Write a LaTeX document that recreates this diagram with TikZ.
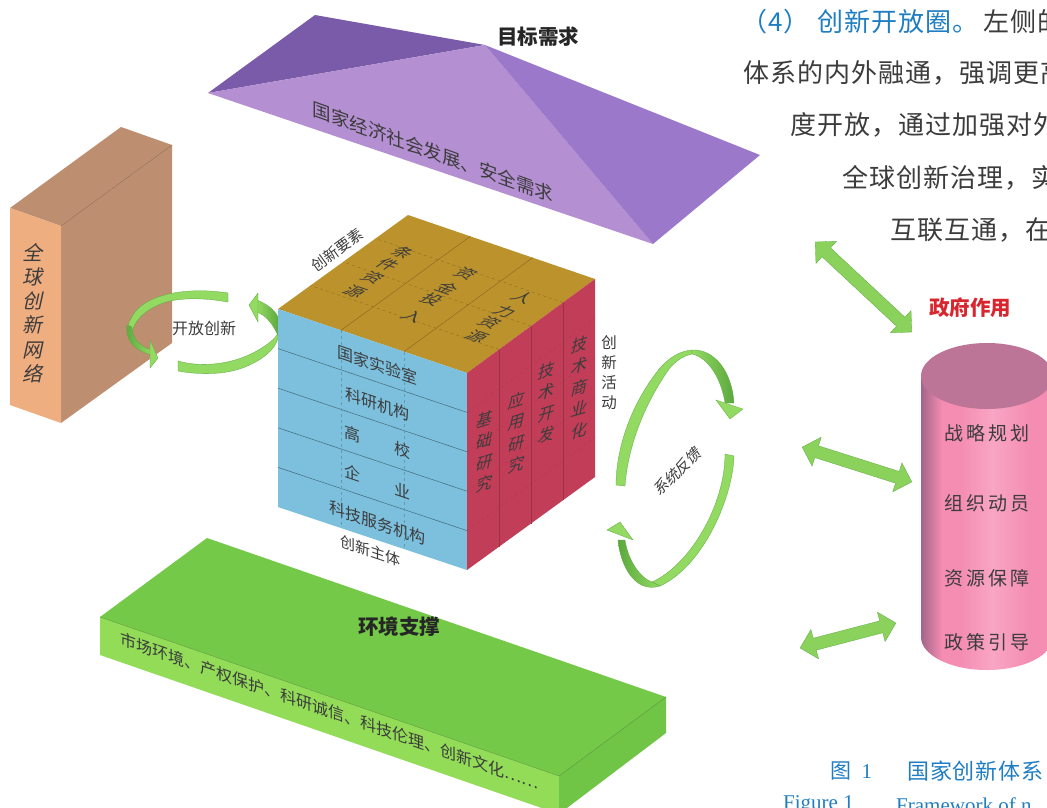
\documentclass[tikz,border=0pt]{standalone}
\usepackage{fontspec}
\usetikzlibrary{calc,shapes.arrows}
\setmainfont{Liberation Serif}
\newfontfamily\cjk{Noto Sans CJK SC}
\newfontfamily\cjkslant[FakeSlant=0.22]{Noto Sans CJK SC}
\newfontfamily\cjkbody[LetterSpace=4]{Noto Sans CJK SC}
\newfontfamily\cjkwide[LetterSpace=16]{Noto Sans CJK SC}
\definecolor{roofdark}{HTML}{7A5BA9}
\definecolor{rooffront}{HTML}{B48FD2}
\definecolor{roofside}{HTML}{9B78C9}
\definecolor{boxfront}{HTML}{EFAE80}
\definecolor{boxside}{HTML}{BD8F70}
\definecolor{cubetop}{HTML}{BC922C}
\definecolor{cubeleft}{HTML}{7CC0DE}
\definecolor{cuberight}{HTML}{C13D58}
\definecolor{slabtop}{HTML}{74C948}
\definecolor{slabfront}{HTML}{92DC58}
\definecolor{slabside}{HTML}{70C446}
\definecolor{ringlight}{HTML}{93DA62}
\definecolor{ringdark}{HTML}{5BA83E}
\definecolor{inktext}{HTML}{3C3C3C}
\definecolor{bodyblue}{HTML}{1F7EC2}
\definecolor{cyltop}{HTML}{BC7596}
\definecolor{cyledge}{HTML}{A3648A}
\definecolor{cylpink}{HTML}{F48DB1}
\definecolor{cylglow}{HTML}{F9A5C4}
\definecolor{govred}{HTML}{D9262E}
\pgfdeclarehorizontalshading{cylshade}{100bp}{color(0bp)=(cyledge);color(25bp)=(cyledge);
	color(33bp)=(cylpink);color(40bp)=(cylpink);color(52bp)=(cylglow);color(66bp)=(cylpink);color(75bp)=(cylpink);color(100bp)=(cylpink)}
\tikzstyle{lab}=[inner sep=0pt,text=inktext,font=\cjk\fontsize{16}{16}\selectfont]
\tikzstyle{stack}=[lab,align=center,font=\cjkslant\fontsize{16}{21.5}\selectfont]
\tikzstyle{headlab}=[inner sep=0pt,text=black!85,font=\cjk\bfseries\fontsize{20.5}{21}\selectfont]
\tikzstyle{leftlab}=[lab,yslant=-0.339]
\tikzstyle{toplab}=[lab,cm={0.92,-0.31,0.75,0.54,(0,0)},font=\cjk\fontsize{18.5}{19}\selectfont]
\tikzstyle{rightlab}=[stack,yslant=0.3]
\tikzstyle{cyllab}=[inner sep=0pt,text=inktext,font=\cjkwide\fontsize{19}{19}\selectfont]
\tikzstyle{bodylab}=[inner sep=0pt,anchor=west,text=inktext,font=\cjkbody\fontsize{26}{26}\selectfont]
\tikzstyle{caplab}=[inner sep=0pt,anchor=west,text=bodyblue,font=\fontsize{21}{21}\selectfont]
\tikzstyle{ringtop}=[fill=ringlight,draw=ringdark,line width=0.3pt]
\tikzstyle{ringside}=[left color=ringdark,right color=ringlight,draw=ringdark,line width=0.3pt]
\tikzstyle{both}=[double arrow,fill=ringlight!85!ringdark,draw=ringdark,line width=0.3pt,inner sep=0pt,
	double arrow head extend=9pt,double arrow tip angle=90]

\begin{document}
\begin{tikzpicture}[x=1pt,y=-1pt]
	\useasboundingbox (0,0) rectangle (1047,807);
	\clip (0,0) rectangle (1047,807);
	\fill[white] (0,0) rectangle (1047,807);
%	roof
	\fill[roofdark] (315,15) -- (485,45) -- (208,93) -- cycle;
	\fill[rooffront] (208,93) -- (485,45) -- (653,244) -- cycle;
	\fill[roofside] (485,45) -- (760,155) -- (653,244) -- cycle;
	\node[headlab] (goal) at (538,37) {目标需求};
	\node[lab,yslant=-0.36,font=\cjk\fontsize{18.5}{18}\selectfont] (goaltext) at (433,152) {国家经济社会发展、安全需求};
%	global box
	\fill[boxside] (61,226) -- (172,145) -- (172,343) -- (61,423) -- cycle;
	\fill[boxside] (10,208) -- (121,127) -- (172,145) -- (61,226) -- cycle;
	\fill[boxfront] (10,208) -- (61,226) -- (61,423) -- (10,405) -- cycle;
	\draw[boxside!70!black,line width=0.3pt] (61,226) -- (172,145);
	\node[stack,font=\cjkslant\fontsize{20}{24.3}\selectfont] (global) at (33,313) {全\\球\\创\\新\\网\\络};
%	open ring
	\fill[ringtop] (228,293) .. controls (190,287) and (150,293) .. (135,312) .. controls (128,322) and (127,328) .. (128,333) -- (133,329) .. controls (136,318) and (150,306) .. (170,301) .. controls (190,297) and (210,299) .. (228,302) -- cycle;
	\shade[ringside] (127,325) .. controls (125,343) and (138,352) .. (152,355) -- (152,350) .. controls (140,347) and (132,338) .. (132,327) -- cycle;
	\fill[ringtop] (150,340) -- (158,358) -- (150,368) -- cycle;
	\fill[ringtop] (178,361) .. controls (195,366) and (225,367) .. (253,353) .. controls (268,345) and (276,338) .. (278,333) -- (278,338) .. controls (275,350) and (262,360) .. (245,367) .. controls (225,375) and (200,375) .. (178,371) -- cycle;
	\shade[ringside,left color=ringlight,right color=ringdark] (279,322) .. controls (279,315) and (272,306) .. (257,300) -- (257,312) .. controls (268,316) and (275,328) .. (279,338) -- cycle;
	\fill[ringtop] (258,293) -- (249,305) -- (258,322) -- cycle;
	\node[lab] (open) at (204,328) {开放创新};
%	cube
	\coordinate (tb) at (408,215);
	\coordinate (tl) at (278,309);
	\coordinate (tf) at (467,373);
	\coordinate (tr) at (595,279);
	\coordinate (bl) at (278,507);
	\coordinate (bf) at (467,570);
	\coordinate (br) at (595,477);
	\fill[cubetop] (tb) -- (tl) -- (tf) -- (tr) -- cycle;
	\fill[cubeleft] (tl) -- (tf) -- (bf) -- (bl) -- cycle;
	\fill[cuberight] (tf) -- (tr) -- (br) -- (bf) -- cycle;
	\foreach \k in {1,...,4}{
		\draw[cubeleft!55!black,line width=0.5pt] ($(tl)!\k/5!(bl)$) -- ($(tf)!\k/5!(bf)$);
		\draw[cuberight!92!black,line width=0.3pt,dashed] ($(tf)!\k/5!(bf)$) -- ($(tr)!\k/5!(br)$);
	}
	\foreach \k in {1,2}{
		\draw[cubeleft!80!black,line width=0.4pt,dashed] ($(tl)!\k/3!(tf)$) -- ($(bl)!\k/3!(bf)$);
		\draw[cubetop!75!black,line width=0.5pt] ($(tl)!\k/3!(tf)$) -- ($(tb)!\k/3!(tr)$);
	}
	\foreach \k in {1,2,3}{
		\draw[cuberight!80!black,line width=0.5pt] ($(tf)!\k/4!(tr)$) -- ($(bf)!\k/4!(br)$);
		\draw[cubetop!75!black,line width=0.4pt,dashed] ($(tf)!\k/4!(tr)$) -- ($(tl)!\k/4!(tb)$);
	}
	\node[leftlab] (lab1) at (377,365) {国家实验室};
	\node[leftlab] (lab2) at (377,404) {科研机构};
	\node[leftlab] (gao) at (352,434) {高};
	\node[leftlab] (xiao) at (402,450) {校};
	\node[leftlab] (qi) at (352,473) {企};
	\node[leftlab] (ye) at (402,491) {业};
	\node[leftlab] (serv) at (377,523) {科技服务机构};
	\node[leftlab,font=\cjk\fontsize{15}{15}\selectfont] (subj) at (370,551) {创新主体};
	\node[lab,rotate=36,font=\cjk\fontsize{15}{15}\selectfont] (elem) at (337,250) {创新要素};
	\node[toplab] (t11) at (403,253) {条};
	\node[toplab] (t12) at (388,265) {件};
	\node[toplab] (t13) at (373,278) {资};
	\node[toplab] (t14) at (355,292) {源};
	\node[toplab] (t21) at (466,274) {资};
	\node[toplab] (t22) at (448,288) {金};
	\node[toplab] (t23) at (432,300) {投};
	\node[toplab] (t24) at (413,317) {入};
	\node[toplab] (t31) at (523,298) {人};
	\node[toplab] (t32) at (505,312) {力};
	\node[toplab] (t33) at (490,323) {资};
	\node[toplab] (t34) at (477,337) {源};
	\node[rightlab] (basic) at (483,452) {基\\础\\研\\究};
	\node[rightlab] (appl) at (515,433) {应\\用\\研\\究};
	\node[rightlab] (tech) at (545,403) {技\\术\\开\\发};
	\node[rightlab] (comm) at (578,388) {技\\术\\商\\业\\化};
	\node[lab,align=center,font=\cjk\fontsize{15.5}{20}\selectfont] (act) at (609,373) {创\\新\\活\\动};
%	feedback ring
	\fill[ringtop] (616,485) .. controls (616,450) and (630,405) .. (660,368) .. controls (670,357) and (680,351) .. (692,350) -- (692,354) .. controls (682,356) and (672,363) .. (665,375) .. controls (645,405) and (628,445) .. (625,486) -- cycle;
	\shade[ringside,left color=ringlight,right color=ringdark] (692,350) .. controls (715,349) and (732,372) .. (734,403) -- (725,403) .. controls (722,382) and (710,358) .. (692,354) -- cycle;
	\fill[ringtop] (716,400) -- (743,409) -- (730,419) -- cycle;
	\fill[ringtop] (725,454) -- (734,456) .. controls (733,495) and (705,565) .. (660,586) -- (652,582) .. controls (690,565) and (725,505) .. (725,454) -- cycle;
	\shade[ringside] (660,586) .. controls (635,594) and (620,565) .. (618,540) -- (625,540) .. controls (628,560) and (640,578) .. (652,582) -- cycle;
	\fill[ringtop] (607,530) -- (620,522) -- (633,540) -- cycle;
	\node[lab,rotate=44,font=\cjkslant\fontsize{15}{15}\selectfont] (feed) at (677,472) {系统反馈};
%	environment slab
	\fill[slabtop] (207,538) -- (666,697) -- (559,776) -- (100,617) -- cycle;
	\fill[slabfront] (100,617) -- (559,776) -- (559,814) -- (100,655) -- cycle;
	\fill[slabside] (559,776) -- (666,697) -- (666,733) -- (559,814) -- cycle;
	\draw[slabside!70!black,line width=0.3pt] (100,617) -- (559,776) -- (666,697);
	\node[headlab] (env) at (399,627) {环境支撑};
	\node[lab,yslant=-0.346] (envtext) at (329,711) {市场环境、产权保护、科研诚信、科技伦理、创新文化……};
%	government cylinder
	\shade[shading=cylshade]
		(921,376) -- (921,637) arc[start angle=180,end angle=360,x radius=66pt,y radius=33pt] -- (1053,376) -- cycle;
	\fill[cyltop] (987,376) ellipse[x radius=66pt,y radius=33pt];
	\node[cyllab] (cyl1) at (987,433) {战略规划};
	\node[cyllab] (cyl2) at (987,503) {组织动员};
	\node[cyllab] (cyl3) at (987,578) {资源保障};
	\node[cyllab] (cyl4) at (987,642) {政策引导};
	\node[headlab,text=govred] (gov) at (970,308) {政府作用};
	\node[both,minimum height=132pt,rotate=-43] (arr1) at (863.5,287) {\rule{0pt}{12pt}};
	\node[both,minimum height=115pt,rotate=-17.6] (arr2) at (857,464.5) {\rule{0pt}{12pt}};
	\node[both,minimum height=99pt,rotate=14.6] (arr3) at (848,635.5) {\rule{0pt}{12pt}};
%	page text
	\node[bodylab,text=bodyblue] (b1a) at (741,22) {（4）};
	\node[bodylab,text=bodyblue] (b1c) at (817,22) {创新开放圈。};
	\node[bodylab] (b1b) at (983,22) {左侧的};
	\node[bodylab] (b2) at (743,73) {体系的内外融通，强调更高};
	\node[bodylab] (b3) at (790,125) {度开放，通过加强对外};
	\node[bodylab] (b4) at (842,178) {全球创新治理，实};
	\node[bodylab] (b5) at (890,230) {互联互通，在};
	\node[caplab] (c1) at (830,771) {{\cjk 图}\ \ 1};
	\node[caplab] (c2) at (907,771) {\cjkbody\fontsize{22}{22}\selectfont 国家创新体系};
	\node[caplab] (c3) at (783,805) {Figure 1};
	\node[caplab] (c4) at (896,805) {Framework of n};
\end{tikzpicture}
\end{document}
